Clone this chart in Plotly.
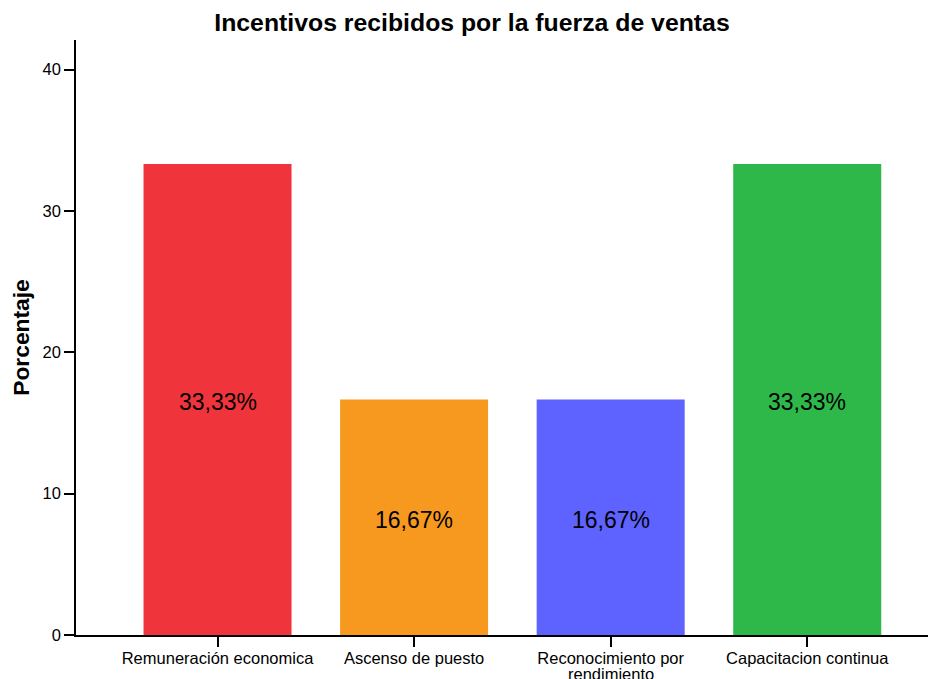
import plotly.graph_objects as go

tick_line1 = ['Remuneración economica', 'Ascenso de puesto',
              'Reconocimiento por', 'Capacitacion continua']
tick_line2 = ['', '', 'rendimiento', '']
percentages = [33.33, 16.67, 16.67, 33.33]
bar_labels = ['33,33%', '16,67%', '16,67%', '33,33%']
bar_colors = ['#F0343B', '#F8991F', '#5E62FF', '#2EB84A']
y_ticks = [0, 10, 20, 30, 40]

xs = list(range(len(tick_line1)))

fig = go.Figure()

fig.add_trace(go.Bar(
    x=xs,
    y=percentages,
    marker_color=bar_colors,
    marker_line_width=0,
    width=0.753,
    hoverinfo='skip',
))

# labels centred in each bar
for x, v, lab in zip(xs, percentages, bar_labels):
    fig.add_annotation(x=x, y=v / 2, text=lab, showarrow=False,
                       yshift=-3, font=dict(size=23, color='black'))

# second line of wrapped category labels (tighter spacing than <br>)
for x, lab in zip(xs, tick_line2):
    if lab:
        fig.add_annotation(x=x, y=0, xref='x', yref='paper', text=lab,
                           showarrow=False, yanchor='middle', yshift=-39,
                           font=dict(size=16.5, color='black'))

# page body has an 8px default margin, so the figure is a bit smaller
fig.update_layout(
    width=928,
    height=671,
    margin=dict(l=68, r=1, t=32, b=44),
    paper_bgcolor='white',
    plot_bgcolor='white',
    showlegend=False,
    font=dict(family='Liberation Sans, Arial', color='black'),
    title=dict(
        text='<b>Incentivos recibidos por la fuerza de ventas</b>',
        x=0.5, xanchor='center', xref='container',
        y=0.979, yanchor='middle', yref='container',
        font=dict(size=24.8),
    ),
)

fig.update_xaxes(
    range=[-0.72, 3.65],
    tickmode='array',
    tickvals=xs,
    ticktext=tick_line1,
    ticks='outside', ticklen=10, tickwidth=1.5, tickcolor='black',
    ticklabelstandoff=-3,
    tickfont=dict(size=16.5),
    showline=True, linecolor='black', linewidth=1.5,
    showgrid=False, zeroline=False,
    automargin=False,
)

fig.update_yaxes(
    range=[0, 42.1],
    tickmode='array',
    tickvals=y_ticks,
    ticks='outside', ticklen=10, tickwidth=1.5, tickcolor='black',
    tickfont=dict(size=16.5),
    showline=True, linecolor='black', linewidth=1.5,
    showgrid=False, zeroline=False,
    automargin=False,
    title=dict(text='<b>Porcentaje</b>', font=dict(size=22.8), standoff=12),
)

fig.write_html('out.html')
